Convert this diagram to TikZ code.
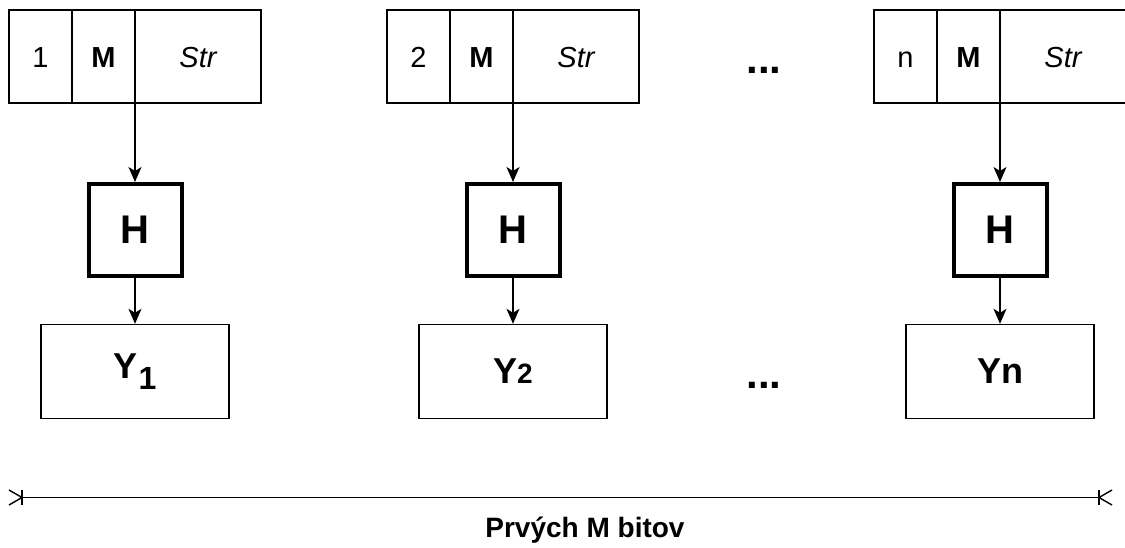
\documentclass[tikz,border=0pt]{standalone}
\usepackage{fontspec}
\setmainfont{Liberation Sans}
\usetikzlibrary{arrows.meta}
\newcommand{\fs}[1]{\fontsize{#1}{#1}\selectfont}
\tikzset{
  x=1pt, y=-1pt,
  cell/.style={draw, line width=1.4pt, outer sep=0pt, minimum height=93pt, inner sep=0pt, font=\fs{29}, text height=21pt, text depth=0pt},
  hbox/.style={draw, line width=4pt, minimum width=93pt, minimum height=92pt, inner sep=0pt, font=\fs{40}\bfseries},
  ybox/.style={draw, line width=1.4pt, minimum width=188pt, minimum height=94pt, inner sep=0pt, font=\fs{36}\bfseries},
  dots/.style={font=\fs{42}\bfseries, inner sep=0pt},
  conn/.style={line width=1.4pt, -{Stealth[length=15pt,width=13pt,inset=4pt]}},
  dim/.style={line width=1.4pt},
}
\begin{document}
\begin{tikzpicture}
\useasboundingbox (0,0) rectangle (1125,547);
% block 1
\node[cell, minimum width=63pt] (a1) at (40.5,56.5) {1};
\node[cell, minimum width=63pt] (m1) at (103.5,56.5) {\bfseries M};
\node[cell, minimum width=126pt] (s1) at (198,56.5) {\itshape Str};
\node[hbox] (h1) at (135,230) {H};
\node[ybox] (y1) at (135,371.5) {Y\kern1pt\raisebox{-0.3em}{\fs{32}1}};
% block 2
\node[cell, minimum width=63pt] (a2) at (418.5,56.5) {2};
\node[cell, minimum width=63pt] (m2) at (481.5,56.5) {\bfseries M};
\node[cell, minimum width=126pt] (s2) at (576,56.5) {\itshape Str};
\node[hbox] (h2) at (513,230) {H};
\node[ybox] (y2) at (513,371.5) {Y{\fs{28}2}};
% block n
\node[cell, minimum width=63pt] (an) at (905.5,56.5) {n};
\node[cell, minimum width=63pt] (mn) at (968.5,56.5) {\bfseries M};
\node[cell, minimum width=126pt] (sn) at (1063,56.5) {\itshape Str};
\node[hbox] (hn) at (1000,230) {H};
\node[ybox] (yn) at (1000,371.5) {Yn};
% dots
\node[dots] (d1) at (764,70) {...};
\node[dots] (d2) at (764,385) {...};
% connectors
\draw[conn] (s1.south west) -- (h1.north);
\draw[conn] (h1.south) -- (y1.north);
\draw[conn] (s2.south west) -- (h2.north);
\draw[conn] (h2.south) -- (y2.north);
\draw[conn] (sn.south west) -- (hn.north);
\draw[conn] (hn.south) -- (yn.north);
% dimension line
\coordinate (dl) at (22,497.5);
\coordinate (dr) at (1099,497.5);
\draw[dim] (dl) -- (dr);
\draw[dim] ([yshift=-7.5pt]dl) -- ([yshift=7.5pt]dl);
\draw[dim] ([yshift=-7.5pt]dr) -- ([yshift=7.5pt]dr);
\draw[dim] ([xshift=-13pt,yshift=-7.5pt]dl) -- (dl) -- ([xshift=-13pt,yshift=7.5pt]dl);
\draw[dim] ([xshift=13pt,yshift=-7.5pt]dr) -- (dr) -- ([xshift=13pt,yshift=7.5pt]dr);
\node[font=\fs{28}\bfseries, anchor=base] (lbl) at (585,537) {Prvých M bitov};
\end{tikzpicture}
\end{document}
